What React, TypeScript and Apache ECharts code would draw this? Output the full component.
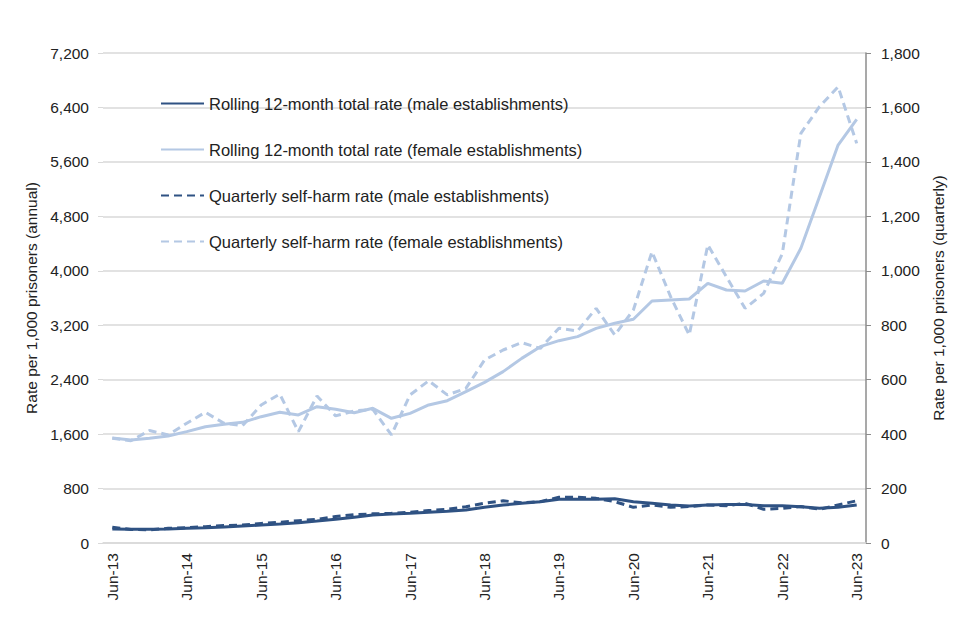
import React, { useEffect, useRef } from "react";
import * as echarts from "echarts";

const categories: string[] = [];
const months = ["Jun", "Sep", "Dec", "Mar"];
for (let i = 0; i < 41; i++) {
  const m = months[i % 4];
  const yr = 13 + Math.floor((i + 2) / 4);
  categories.push(`${m}-${yr}`);
}

const maleRolling = [
  206, 201, 201, 206, 216, 225, 235, 250, 264, 279, 299, 323, 348, 380, 411, 426,
  436, 451, 465, 485, 524, 558, 583, 607, 642, 642, 642, 650, 607, 583, 558, 544,
  558, 566, 566, 548, 548, 534, 509, 524, 558,
];
const femaleRolling = [
  1543, 1513, 1538, 1572, 1636, 1709, 1744, 1773, 1856, 1920, 1881, 2003, 1964, 1915,
  1979, 1832, 1905, 2028, 2091, 2224, 2360, 2518, 2713, 2885, 2973, 3032, 3154, 3228,
  3287, 3556, 3571, 3585, 3816, 3718, 3703, 3850, 3816, 4330, 5089, 5848, 6226,
];
const maleQuarterly = [
  58, 50, 48, 54, 56, 60, 64, 66, 72, 76, 82, 87, 97, 104, 107, 109, 113, 119, 124,
  133, 146, 155, 148, 152, 168, 168, 164, 152, 131, 140, 131, 134, 140, 137, 146,
  124, 127, 134, 124, 140, 155,
];
const femaleQuarterly = [
  385, 376, 413, 397, 440, 480, 440, 431, 507, 547, 409, 540, 467, 485, 491, 397,
  544, 596, 544, 568, 672, 709, 736, 715, 789, 779, 862, 764, 856, 1070, 905, 764,
  1095, 978, 862, 917, 1062, 1505, 1603, 1676, 1468,
];

const seriesNames = [
  "Rolling 12-month total rate (male establishments)",
  "Rolling 12-month total rate (female establishments)",
  "Quarterly self-harm rate (male establishments)",
  "Quarterly self-harm rate (female establishments)",
];

const DARK = "#2F5283";
const LIGHT = "#B4C8E4";
const FONT = "Liberation Sans";

export default function App() {
  const ref = useRef<HTMLDivElement>(null);
  useEffect(() => {
    if (!ref.current) return;
    const chart = echarts.init(ref.current, null, { renderer: "svg" });
    const txt = { fontFamily: FONT, fontSize: 15.5, color: "#222" };
    chart.setOption({
      animation: false,
      textStyle: { fontFamily: FONT },
      grid: { left: 103, right: 94, top: 53, bottom: 97 },
      legend: {
        orient: "vertical",
        left: 155,
        top: 90,
        itemWidth: 43,
        itemHeight: 14,
        itemGap: 29,
        itemTextGap: 0,
        itemStyle: { color: "transparent", borderWidth: 0, opacity: 0 },
        textStyle: { fontFamily: FONT, fontSize: 16.5, color: "#222" },
        data: seriesNames,
      },
      xAxis: {
        type: "category",
        data: categories,
        boundaryGap: true,
        axisLine: { lineStyle: { color: "#D9D9D9", width: 1.5 } },
        axisTick: { interval: 0, length: 5, lineStyle: { color: "#D9D9D9", width: 1.5 } },
        axisLabel: { interval: 3, rotate: 90, margin: 10, ...txt },
      },
      yAxis: [
        {
          type: "value",
          min: 0,
          max: 7200,
          interval: 800,
          name: "Rate per 1,000 prisoners (annual)",
          nameLocation: "middle",
          nameGap: 63,
          nameTextStyle: { ...txt },
          axisLine: { show: false },
          axisTick: { show: true, length: 5, lineStyle: { color: "#D9D9D9" } },
          axisLabel: {
            ...txt,
            margin: 14,
            formatter: (v: number) => v.toLocaleString("en-GB"),
          },
          splitLine: { lineStyle: { color: "#D9D9D9", width: 1.5 } },
        },
        {
          type: "value",
          min: 0,
          max: 1800,
          interval: 200,
          name: "Rate per 1,000 prisoners (quarterly)",
          nameLocation: "middle",
          nameGap: 59,
          nameTextStyle: { ...txt },
          axisLine: { show: true, lineStyle: { color: "#8C8C8C", width: 1.5 } },
          axisTick: { show: true, length: 5, lineStyle: { color: "#8C8C8C" } },
          axisLabel: {
            ...txt,
            margin: 15,
            formatter: (v: number) => v.toLocaleString("en-GB"),
          },
          splitLine: { show: false },
        },
      ],
      series: [
        {
          name: seriesNames[0],
          type: "line",
          yAxisIndex: 0,
          data: maleRolling,
          symbol: "none",
          z: 4,
          lineStyle: { color: DARK, width: 3 },
          itemStyle: { color: DARK },
        },
        {
          name: seriesNames[1],
          type: "line",
          yAxisIndex: 0,
          data: femaleRolling,
          symbol: "none",
          z: 3,
          lineStyle: { color: LIGHT, width: 3 },
          itemStyle: { color: LIGHT },
        },
        {
          name: seriesNames[2],
          type: "line",
          yAxisIndex: 1,
          data: maleQuarterly,
          symbol: "none",
          z: 4,
          lineStyle: { color: DARK, width: 3, type: [8, 5] },
          itemStyle: { color: DARK },
        },
        {
          name: seriesNames[3],
          type: "line",
          yAxisIndex: 1,
          data: femaleQuarterly,
          symbol: "none",
          z: 3,
          lineStyle: { color: LIGHT, width: 3, type: [8, 5] },
          itemStyle: { color: LIGHT },
        },
      ],
    });
    return () => chart.dispose();
  }, []);
  return <div ref={ref} style={{ width: 960, height: 640, position: "absolute", left: 0, top: 0 }} />;
}
